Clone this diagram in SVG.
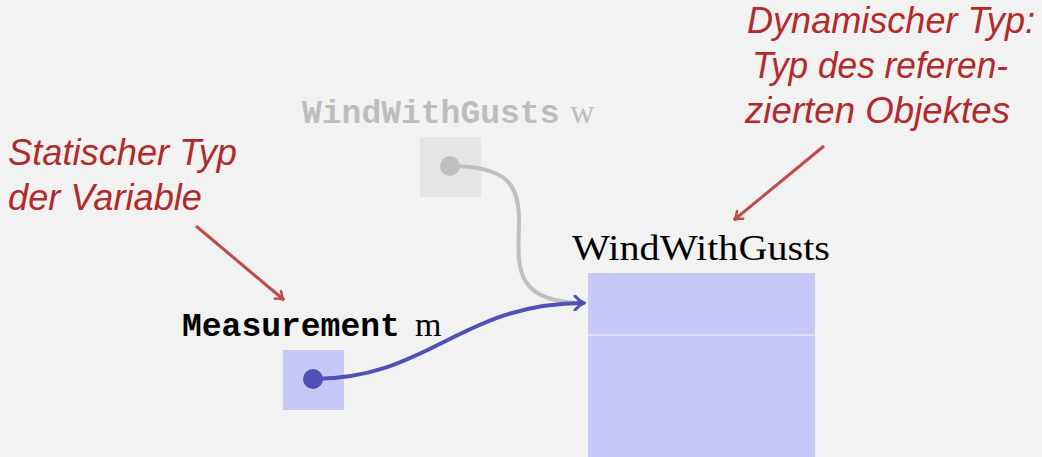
<svg xmlns="http://www.w3.org/2000/svg" width="1042" height="457" viewBox="0 0 1042 457">
<defs>
<style>
.note{font-family:"Liberation Sans",Arial,sans-serif;font-style:italic;font-size:36px;fill:#b22a2a}
.mono{font-family:"Liberation Mono","DejaVu Sans Mono",monospace;font-weight:bold;font-size:33px}
.serif{font-family:"Liberation Serif","DejaVu Serif",serif}
.ann{fill:none;stroke:#c04a4a;stroke-width:3}
</style>
<marker id="ah-red" viewBox="0 0 12 12" refX="10" refY="6" markerWidth="12" markerHeight="12" markerUnits="userSpaceOnUse" orient="auto">
<path d="M2,1 Q6,5 10,6 Q6,7 2,11" fill="none" stroke="#c04a4a" stroke-width="2.5" stroke-linecap="round"/>
</marker>
<marker id="ah-blue" viewBox="0 0 14 16" refX="12" refY="8" markerWidth="14" markerHeight="16" markerUnits="userSpaceOnUse" orient="auto">
<path d="M3,1 Q7,6 12,8 Q7,10 3,15" fill="none" stroke="#5050b8" stroke-width="3" stroke-linecap="round"/>
</marker>
</defs>
<rect width="1042" height="457" fill="#f2f2f2"/>
<g id="object">
<rect x="588" y="273" width="227" height="184" fill="#c8c8f8"/>
<line x1="588" y1="335" x2="815" y2="335" stroke="#e8e8ff" stroke-width="1.5"/>
<text class="serif" x="572" y="260" font-size="36" textLength="258" lengthAdjust="spacingAndGlyphs" fill="#000">WindWithGusts</text>
</g>
<g id="var-w">
<text class="mono" x="302" y="123" fill="#bdbdbd">WindWithGusts</text>
<text class="serif" x="570" y="123" font-size="34" fill="#bdbdbd">w</text>
<rect x="420" y="137" width="61" height="60" fill="#e5e5e5"/>
</g>
<g id="var-m">
<text class="mono" x="182" y="336" fill="#000">Measurement</text>
<text class="serif" x="415" y="336" font-size="34" fill="#000">m</text>
<rect x="283" y="350" width="61" height="60" fill="#c8c8f8"/>
</g>
<g id="note-static">
<text class="note" x="8" y="165" textLength="229" lengthAdjust="spacingAndGlyphs">Statischer Typ</text>
<text class="note" x="8" y="210" textLength="194" lengthAdjust="spacingAndGlyphs">der Variable</text>
</g>
<g id="note-dynamic">
<text class="note" x="747" y="33" textLength="288" lengthAdjust="spacingAndGlyphs">Dynamischer Typ:</text>
<text class="note" x="752" y="78" textLength="256" lengthAdjust="spacingAndGlyphs">Typ des referen-</text>
<text class="note" x="745" y="123" textLength="265" lengthAdjust="spacingAndGlyphs">zierten Objektes</text>
</g>
<g id="connectors">
<path d="M450,166 C508,166 520,185 519,225 C518,265 512,303 585,303" fill="none" stroke="#bfbfbf" stroke-width="4"/>
<circle cx="450" cy="166" r="10" fill="#bfbfbf"/>
<path d="M313,379 C430,379 460,303 584,303" fill="none" stroke="#5050b8" stroke-width="4" marker-end="url(#ah-blue)"/>
<circle cx="313" cy="379" r="10" fill="#5050b8"/>
<line class="ann" x1="196" y1="226" x2="284" y2="300" marker-end="url(#ah-red)"/>
<line class="ann" x1="824" y1="146" x2="734" y2="220" marker-end="url(#ah-red)"/>
</g>
</svg>
